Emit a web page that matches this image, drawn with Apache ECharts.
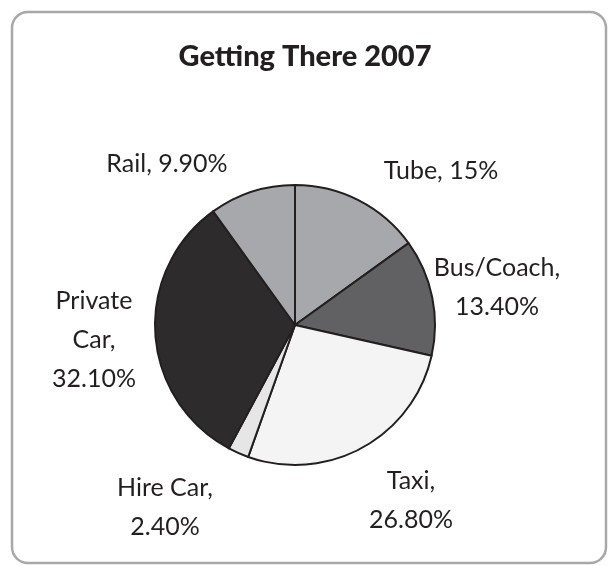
<!DOCTYPE html>
<html><head><meta charset="utf-8">
<script src="https://cdn.jsdelivr.net/npm/echarts@6/dist/echarts.min.js"></script>
<style>html,body{margin:0;padding:0;background:#fff}#c{width:608px;height:566px}</style>
</head><body><div id="c"></div>
<script>
const title = 'Getting There 2007';
const categories = ['Tube', 'Bus/Coach', 'Taxi', 'Hire Car', 'Private Car', 'Rail'];
const values = [15, 13.4, 26.8, 2.4, 32.1, 9.9];
const labelTexts = ['Tube, 15%', 'Bus/Coach,\n13.40%', 'Taxi,\n26.80%', 'Hire Car,\n2.40%', 'Private\nCar,\n32.10%', 'Rail, 9.90%'];
const colors = ['#a7a8ab', '#616163', '#f4f4f4', '#e6e6e6', '#2d2b2c', '#a7a8ab'];
const labelPos = [[441,171],[497,287],[411,500],[165,507],[94,340],[167,164]];

const chart = echarts.init(document.getElementById('c'), null, {renderer:'canvas'});
chart.setOption({
  animation: false,
  graphic: [{
    type: 'rect', shape: {x: 12, y: 12, width: 594, height: 551, r: 16},
    style: {fill: '#fff', stroke: '#a8a8a8', lineWidth: 2.5}, z: -10
  }],
  title: {
    text: title, left: 300, top: 37, textAlign: 'center',
    textStyle: {fontFamily: 'Lato', fontWeight: 900, fontSize: 29, color: '#231f20'}
  },
  series: [{
    type: 'pie',
    center: [295, 325], radius: 140,
    startAngle: 90, clockwise: true,
    data: categories.map((n, i) => ({name: n, value: values[i], itemStyle: {color: colors[i]}})),
    itemStyle: {borderColor: '#231f20', borderWidth: 2},
    label: {
      show: true, position: 'outside', overflow: 'none', edgeDistance: 0,
      formatter: p => labelTexts[p.dataIndex],
      fontFamily: 'Lato', fontSize: 25, lineHeight: 39, color: '#231f20', align: 'center'
    },
    labelLine: {show: false},
    labelLayout: p => ({x: labelPos[p.dataIndex][0], y: labelPos[p.dataIndex][1], align: 'center', verticalAlign: 'middle'}),
    emphasis: {disabled: true}
  }]
});
</script></body></html>
